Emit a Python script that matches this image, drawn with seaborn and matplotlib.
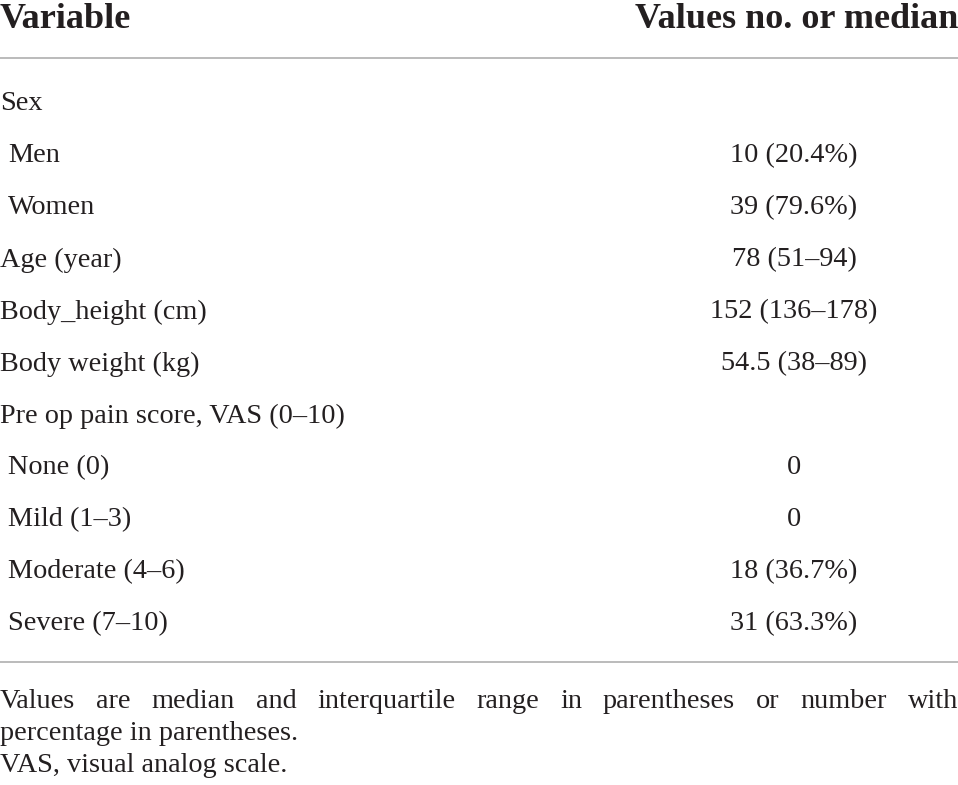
import matplotlib.pyplot as plt
import seaborn as sns

# table content
variables = ["Sex", "Men", "Women", "Age (year)", "Body_height (cm)", "Body weight (kg)",
             "Pre op pain score, VAS (0\u201310)", "None (0)", "Mild (1\u20133)",
             "Moderate (4\u20136)", "Severe (7\u201310)"]
values = ["", "10 (20.4%)", "39 (79.6%)", "78 (51\u201394)", "152 (136\u2013178)",
          "54.5 (38\u201389)", "", "0", "0", "18 (36.7%)", "31 (63.3%)"]
indented = [False, True, True, False, False, False, False, True, True, True, True]
headers = ["Variable", "Values no. or median"]
footnote_1 = ("Values are median and interquartile range in parentheses or number with "
              "percentage in parentheses.")
footnote_2 = "VAS, visual analog scale."

sns.set_theme(style="white")
plt.rcParams['font.family'] = ['Liberation Serif', 'DejaVu Serif']

W, H = 958, 785
fig = plt.figure(figsize=(W / 100, H / 100), dpi=100)
ax = fig.add_axes([0, 0, 1, 1])
ax.set_xlim(0, W)
ax.set_ylim(H, 0)
ax.axis("off")

txt_color = "#231f20"
fs = 20.3

ax.text(0, 20, headers[0], fontsize=26, fontweight="bold", color=txt_color, va="center", ha="left")
ax.text(W, 20, headers[1], fontsize=26, fontweight="bold", color=txt_color, va="center", ha="right")
ax.axhline(58, color="#b5b5b5", lw=1.3)

row_y0, row_step = 104, 52
for i, (var, val, ind) in enumerate(zip(variables, values, indented)):
    y = row_y0 + i * row_step
    ax.text(8 if ind else 0, y, var, fontsize=fs, color=txt_color, va="center", ha="left")
    if val:
        ax.text(794, y, val, fontsize=fs, color=txt_color, va="center", ha="center")

ax.axhline(662, color="#b5b5b5", lw=1.3)

# justified first footnote line
fig.canvas.draw()
renderer = fig.canvas.get_renderer()
words_all = footnote_1.split()
first_line = words_all[:11]
rest = " ".join(words_all[11:])
handles = [ax.text(0, 702, w, fontsize=fs, color=txt_color, va="center", ha="left") for w in first_line]
widths = [h.get_window_extent(renderer).width for h in handles]
gap = (W - sum(widths)) / (len(widths) - 1)
x = 0
for h, w in zip(handles, widths):
    h.set_x(x)
    x += w + gap
ax.text(0, 733, rest, fontsize=fs, color=txt_color, va="center", ha="left")
ax.text(0, 765, footnote_2, fontsize=fs, color=txt_color, va="center", ha="left")

fig.savefig("out.png", dpi=100)
